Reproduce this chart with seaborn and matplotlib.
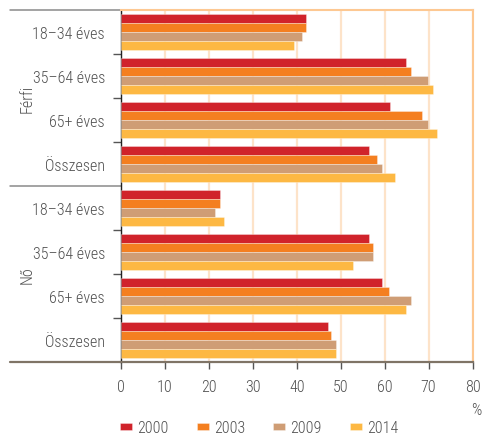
import matplotlib
matplotlib.use("Agg")
import matplotlib.pyplot as plt
import matplotlib.transforms as mtransforms
import seaborn as sns
import pandas as pd

# Employment-type rates by sex and age band, four survey years
years = ["2000", "2003", "2009", "2014"]
sexes = ["Férfi", "Nő"]
ages = ["18–34 éves", "35–64 éves", "65+ éves", "Összesen"]

v2000 = [42.0, 64.8, 61.3, 56.5, 22.6, 56.4, 59.4, 47.0]
v2003 = [42.1, 66.1, 68.6, 58.3, 22.5, 57.3, 61.0, 47.9]
v2009 = [41.1, 69.8, 69.8, 59.4, 21.4, 57.3, 65.9, 48.9]
v2014 = [39.4, 71.0, 72.0, 62.3, 23.5, 52.8, 64.9, 48.9]

colors = ["#d0232b", "#f47f20", "#cf9d75", "#fdb843"]
xticks = [0, 10, 20, 30, 40, 50, 60, 70, 80]

sns.set_theme(style="white")
plt.rcParams["font.family"] = ["Roboto Condensed", "Roboto", "DejaVu Sans"]
plt.rcParams["font.stretch"] = "condensed"
plt.rcParams["font.weight"] = "light"
text_color = "#505050"
fs = 11.5

keys = [f"{s}|{a}" for s in sexes for a in ages]
rows = []
for yr, vals in zip(years, [v2000, v2003, v2009, v2014]):
    for k, v in zip(keys, vals):
        rows.append({"key": k, "year": yr, "value": v})
df = pd.DataFrame(rows)

fig = plt.figure(figsize=(4.84, 4.35), dpi=100)
W, H = 484, 435
x0, x1, ytop, ybot = 121, 472.5, 11.3, 363.3
ax = fig.add_axes([x0 / W, 1 - ybot / H, (x1 - x0) / W, (ybot - ytop) / H])

sns.barplot(data=df, x="value", y="key", hue="year", order=keys,
            hue_order=years, palette=colors, saturation=1, orient="h",
            width=0.82, gap=0, edgecolor=(1, 1, 1, 0.45), linewidth=0.5,
            ax=ax, legend=True, zorder=3)

ax.set_xlim(0, 80)
ax.set_ylim(7.5, -0.5)
ax.set_xlabel("")
ax.set_ylabel("")

# vertical grid
ax.set_axisbelow(True)
ax.set_xticks(xticks)
ax.xaxis.grid(True, color="#fde3c9", linewidth=1.6, zorder=0)
ax.yaxis.grid(False)

# spines
for side in ["top", "right"]:
    ax.spines[side].set_color("#fdc892")
    ax.spines[side].set_linewidth(1.5)
ax.spines["left"].set_color("#222222")
ax.spines["left"].set_linewidth(1.0)
ax.spines["bottom"].set_color("#7f7466")
ax.spines["bottom"].set_linewidth(1.6)

ax.tick_params(axis="x", which="major", direction="out", length=5,
               width=1.0, color="#555555", labelsize=fs,
               labelcolor=text_color, pad=7, bottom=True)
ax.set_xticklabels([str(t) for t in xticks])

ax.set_yticks(range(len(keys)))
ax.set_yticklabels([a for s in sexes for a in ages])
ax.tick_params(axis="y", which="major", length=0, pad=11.5,
               labelsize=fs, labelcolor=text_color)
ax.set_yticks([0.5, 1.5, 2.5, 4.5, 5.5, 6.5], minor=True)
ax.tick_params(axis="y", which="minor", direction="out", length=6,
               width=1.0, color="#555555", left=True)

# group labels and separators on the left
trans = mtransforms.blended_transform_factory(ax.transAxes, ax.transData)
xl = (10 - x0) / (x1 - x0)
for yv in [-0.5, 3.5]:
    ax.plot([xl, 0], [yv, yv], transform=trans, color="#8a8a8a",
            linewidth=1.1, clip_on=False)
ax.plot([xl, 0], [7.5, 7.5], transform=trans, color="#7f7466",
        linewidth=1.6, clip_on=False)
xg = (27 - x0) / (x1 - x0)
for s, yc in zip(sexes, [1.5, 5.5]):
    ax.text(xg, yc, s, transform=trans, rotation=90, ha="center",
            va="center", fontsize=fs, color=text_color)

ax.text(1.01, -0.135, "%", transform=ax.transAxes, ha="center", va="center",
        fontsize=fs, color=text_color)

handles, labels = ax.get_legend_handles_labels()
ax.legend(handles, labels, loc="center left",
          bbox_to_anchor=((120 - x0) / (x1 - x0), -0.185), ncol=4,
          frameon=False, fontsize=fs, labelcolor=text_color,
          handlelength=0.78, handleheight=0.32, handletextpad=0.3,
          columnspacing=1.75, borderpad=0, borderaxespad=0)

fig.savefig("out.png", dpi=100)
